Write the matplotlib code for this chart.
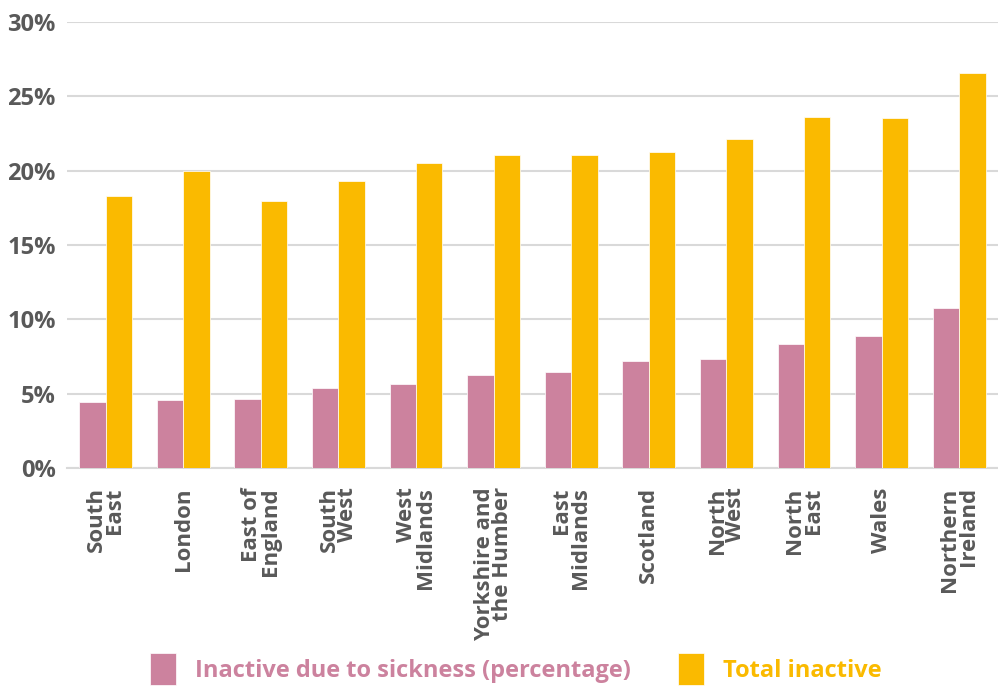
import matplotlib.pyplot as plt
import numpy as np

regions = ["South\nEast", "London", "East of\nEngland", "South\nWest", "West\nMidlands",
           "Yorkshire and\nthe Humber", "East\nMidlands", "Scotland", "North\nWest",
           "North\nEast", "Wales", "Northern\nIreland"]
sickness = [4.4, 4.55, 4.65, 5.4, 5.65, 6.25, 6.45, 7.2, 7.35, 8.35, 8.85, 10.75]
total = [18.3, 19.95, 17.95, 19.3, 20.5, 21.05, 21.05, 21.25, 22.1, 23.6, 23.55, 26.55]

pink = '#CC829E'
yellow = '#FABA00'
grey = '#595959'

plt.rcParams['font.family'] = ['Open Sans', 'DejaVu Sans']

fig = plt.figure(figsize=(9.98, 6.86), dpi=100)
ax = fig.add_axes([0.067, 0.318, 0.933, 0.65])

x = np.arange(len(regions))
w = 0.34
ax.bar(x - w / 2, sickness, w, color=pink, edgecolor='white', linewidth=0.5,
       label='Inactive due to sickness (percentage)', zorder=3)
ax.bar(x + w / 2, total, w, color=yellow, edgecolor='white', linewidth=0.5,
       label='Total inactive', zorder=3)

ax.set_xlim(-0.5, len(regions) - 0.5)
ax.set_ylim(0, 30)
ax.set_yticks(np.arange(0, 31, 5))
ax.set_yticklabels([f'{v}%' for v in range(0, 31, 5)], fontsize=17, fontweight='bold', color=grey)
ax.grid(axis='y', color='#D9D9D9', linewidth=1.5, zorder=0)
for s in ['top', 'right', 'left']:
    ax.spines[s].set_visible(False)
ax.spines['bottom'].set_color('#D9D9D9')
ax.spines['bottom'].set_linewidth(1.5)
ax.tick_params(axis='both', length=0)
ax.tick_params(axis='y', pad=8)
ax.tick_params(axis='x', pad=14)

ax.set_xticks(x)
ax.set_xticklabels(regions, rotation=90, fontsize=16, fontweight='bold', color=grey,
                   multialignment='right', linespacing=0.85)

fig.legend(loc='lower center', bbox_to_anchor=(0.517, -0.03), ncol=2, frameon=False,
           labelcolor=[pink, yellow], prop={'weight': 'bold', 'size': 17},
           handlelength=1.1, handleheight=1.7, columnspacing=2.0, handletextpad=0.8)

fig.savefig('out.png', dpi=100)
